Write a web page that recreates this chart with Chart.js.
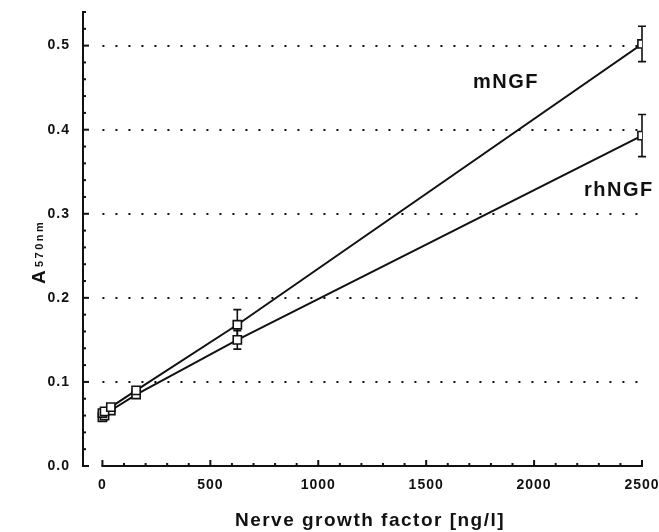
<!DOCTYPE html>
<html>
<head>
<meta charset="utf-8">
<script src="https://cdn.jsdelivr.net/npm/chart.js@4"></script>
<style>
    html, body { margin: 0; padding: 0; background: #fff; }
    #wrap { width: 659px; height: 532px; }
</style>
</head>
<body>
<div id="wrap"><canvas id="ngfChart" width="659" height="532"></canvas></div>
<script>
// === ДАННЫЕ ===
const doses = [0, 9.8, 39, 156, 625, 2500];
const mNGF = [0.063, 0.065, 0.070, 0.090, 0.168, 0.502];
const mNGFerr = [0.002, 0.002, 0.003, 0.004, 0.018, 0.021];
const rhNGF = [0.058, 0.060, 0.066, 0.085, 0.150, 0.393];
const rhNGFerr = [0.002, 0.002, 0.003, 0.003, 0.011, 0.025];
const xTicks = [0, 500, 1000, 1500, 2000, 2500];
const yTicks = [0, 0.1, 0.2, 0.3, 0.4, 0.5];
const gridLevels = [0.1, 0.2, 0.3, 0.4, 0.5];
const seriesLabels = [
    { text: 'mNGF', x: 1870, y: 0.456 },
    { text: 'rhNGF', x: 2393, y: 0.328 }
];

const FONT = '"Liberation Sans", Arial, sans-serif';

// оси, сетка, погрешности и подписи рисуем сами через шкалы
const paperPlugin = {
    id: 'paper',
    beforeDraw(chart) {
        chart.ctx.letterSpacing = '1px';
    },
    beforeDatasetsDraw(chart) {
        const { ctx, scales: { x, y } } = chart;
        ctx.save();
        ctx.letterSpacing = '0px';

        // пунктирная сетка
        ctx.strokeStyle = '#111';
        ctx.lineWidth = 2.2;
        ctx.lineCap = 'butt';
        ctx.setLineDash([2, 11]);
        gridLevels.forEach(v => {
            const py = Math.round(y.getPixelForValue(v));
            ctx.beginPath();
            ctx.moveTo(x.getPixelForValue(0), py);
            ctx.lineTo(x.getPixelForValue(2480), py);
            ctx.stroke();
        });
        ctx.setLineDash([]);

        // ось Y
        const ax = x.getPixelForValue(x.min);
        ctx.lineWidth = 2;
        ctx.beginPath();
        ctx.moveTo(ax, y.getPixelForValue(0) + 1);
        ctx.lineTo(ax, y.getPixelForValue(0.54) - 1);
        ctx.stroke();
        for (let i = 0; i <= 27; i++) {
            const v = i * 0.02;
            const py = y.getPixelForValue(v);
            const len = (i % 5 === 0) ? 6 : 3;
            ctx.beginPath();
            ctx.moveTo(ax, py);
            ctx.lineTo(ax + len, py);
            ctx.stroke();
        }

        // ось X
        const ay = y.getPixelForValue(0);
        ctx.beginPath();
        ctx.moveTo(x.getPixelForValue(0) - 1, ay);
        ctx.lineTo(x.getPixelForValue(2500) + 1, ay);
        ctx.stroke();
        for (let v = 0; v <= 2500; v += 100) {
            const px = x.getPixelForValue(v);
            const len = (v % 500 === 0) ? 6 : 3;
            ctx.beginPath();
            ctx.moveTo(px, ay);
            ctx.lineTo(px, ay - len);
            ctx.stroke();
        }

        // погрешности
        ctx.lineWidth = 1.6;
        [[mNGF, mNGFerr], [rhNGF, rhNGFerr]].forEach(([vals, errs]) => {
            vals.forEach((v, i) => {
                const px = x.getPixelForValue(doses[i]);
                const top = y.getPixelForValue(v + errs[i]);
                const bot = y.getPixelForValue(v - errs[i]);
                if (bot - top < 8) return;
                ctx.beginPath();
                ctx.moveTo(px, top); ctx.lineTo(px, bot);
                ctx.moveTo(px - 4, top); ctx.lineTo(px + 4, top);
                ctx.moveTo(px - 4, bot); ctx.lineTo(px + 4, bot);
                ctx.stroke();
            });
        });
        ctx.restore();
    },
    afterDraw(chart) {
        const { ctx, scales: { x, y } } = chart;
        ctx.save();
        ctx.fillStyle = '#111';

        // подписи серий
        ctx.font = `bold 20px ${FONT}`;
        ctx.letterSpacing = '1.5px';
        ctx.textAlign = 'center';
        ctx.textBaseline = 'middle';
        seriesLabels.forEach(l => {
            ctx.fillText(l.text, x.getPixelForValue(l.x), y.getPixelForValue(l.y));
        });

        // подпись оси X
        ctx.font = `bold 19px ${FONT}`;
        ctx.letterSpacing = '1.5px';
        ctx.textBaseline = 'alphabetic';
        ctx.fillText('Nerve growth factor [ng/l]', 370, 526);

        // подпись оси Y: A с индексом 570nm
        ctx.translate(45, 284);
        ctx.rotate(-Math.PI / 2);
        ctx.textAlign = 'left';
        ctx.font = `bold 19px ${FONT}`;
        ctx.letterSpacing = '0px';
        ctx.fillText('A', 0, 0);
        ctx.font = `bold 11px ${FONT}`;
        ctx.letterSpacing = '2.5px';
        ctx.fillText('570nm', 17, -2);
        ctx.restore();
    }
};

document.addEventListener('DOMContentLoaded', () => {
    const ctx = document.getElementById('ngfChart');
    const pointOpts = {
        pointStyle: 'rect',
        pointRadius: 5.8,
        pointHoverRadius: 5.8,
        pointBackgroundColor: '#fff',
        pointBorderColor: '#111',
        pointBorderWidth: 1.6,
        borderColor: '#111',
        borderWidth: 2,
        tension: 0,
        fill: false
    };
    new Chart(ctx, {
        type: 'line',
        data: {
            datasets: [
                { label: 'mNGF', data: doses.map((d, i) => ({ x: d, y: mNGF[i] })), ...pointOpts },
                { label: 'rhNGF', data: doses.map((d, i) => ({ x: d, y: rhNGF[i] })), ...pointOpts }
            ]
        },
        options: {
            responsive: false,
            animation: false,
            layout: { padding: { top: 12, right: 17, left: 0, bottom: 0 } },
            plugins: { legend: { display: false }, tooltip: { enabled: false } },
            scales: {
                x: {
                    type: 'linear',
                    min: -90,
                    max: 2500,
                    grid: { display: false, drawTicks: false },
                    border: { display: false },
                    afterBuildTicks: s => { s.ticks = xTicks.map(v => ({ value: v })); },
                    afterFit: s => { s.height = 66; s.paddingLeft = 0; s.paddingRight = 0; },
                    ticks: {
                        padding: 11,
                        color: '#111',
                        maxRotation: 0,
                        font: { family: FONT, size: 14, weight: 'bold' },
                        callback: v => String(v)
                    }
                },
                y: {
                    min: 0,
                    max: 0.54,
                    grid: { display: false, drawTicks: false },
                    border: { display: false },
                    afterBuildTicks: s => { s.ticks = yTicks.map(v => ({ value: v })); },
                    afterFit: s => { s.width = 83; s.paddingTop = 0; s.paddingBottom = 0; },
                    ticks: {
                        padding: 13,
                        color: '#111',
                        font: { family: FONT, size: 14, weight: 'bold' },
                        callback: v => v.toFixed(1)
                    }
                }
            }
        },
        plugins: [paperPlugin]
    });
});
</script>
</body>
</html>
